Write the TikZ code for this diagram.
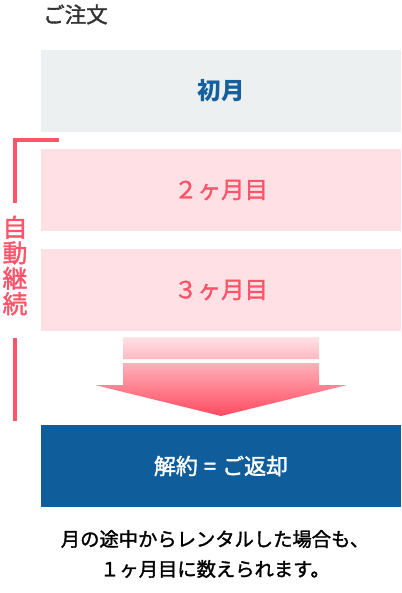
\documentclass[tikz,border=0pt]{standalone}
\usepackage{fontspec}
\setmainfont{Noto Sans CJK JP}
\newfontfamily\jp{Noto Sans CJK JP}
\newfontfamily\jpm{Noto Sans CJK JP}[FakeBold=1.6]
\definecolor{grayBox}{HTML}{ECF0F1}
\definecolor{pinkBox}{HTML}{FFE1E5}
\definecolor{redTxt}{HTML}{FF5469}
\definecolor{blueBox}{HTML}{0F5E9B}
\definecolor{blueTxt}{HTML}{15609C}
\definecolor{titleGray}{HTML}{333333}
\definecolor{arrowTop}{HTML}{FFE3E7}
\definecolor{arrowBot}{HTML}{FF4A5F}
\tikzset{
  band/.style={inner sep=0pt, outer sep=0pt, minimum width=360pt, minimum height=82pt, anchor=north west},
  bracketline/.style={draw=redTxt, line width=3.5pt},
}
\begin{document}
\begin{tikzpicture}[x=1pt,y=-1pt]
\useasboundingbox (0,0) rectangle (401,593);
\node[anchor=west, text=titleGray, font=\jpm\fontsize{21.5}{24}\selectfont, inner sep=0pt] (title) at (43,14.5) {ご注文};
\node[band, fill=grayBox, text=blueTxt, font=\jp\bfseries\fontsize{23.5}{28}\selectfont] (m1) at (41,50) {初月};
\node[band, fill=pinkBox, text=redTxt, font=\jpm\fontsize{23.5}{26}\selectfont] (m2) at (41,149) {２ヶ月目};
\node[band, fill=pinkBox, text=redTxt, font=\jpm\fontsize{23.5}{26}\selectfont] (m3) at (41,249) {３ヶ月目};
\node[band, fill=blueBox, text=white, font=\jpm\fontsize{22}{26}\selectfont] (end) at (41,425) {解約\hspace{6pt}=\hspace{6pt}ご返却};
% arrow
\shade[top color=arrowTop, bottom color=arrowBot]
  (123,337) rectangle (319,359)
  (123,363) -- (319,363) -- (319,385) -- (347,385) -- (221,416) -- (95,385) -- (123,385) -- cycle;
% bracket
\coordinate (bA) at (15,140);
\coordinate (bB) at (59,140);
\coordinate (bC) at (15,203);
\coordinate (bD) at (15,338);
\coordinate (bE) at (15,421);
\draw[bracketline] (bB) -- (bA) -- (bC);
\draw[bracketline] (bD) -- (bE);
\node[text=redTxt, font=\jpm\fontsize{25}{25.5}\selectfont, align=center, inner sep=0pt] (auto) at (15,265.5) {自\\動\\継\\続};
\node[align=center, font=\jpm\fontsize{19.3}{30}\selectfont, inner sep=0pt] (note) at (215,554) {月の途中からレンタルした場合も、\\１ヶ月目に数えられます。};
\end{tikzpicture}
\end{document}
